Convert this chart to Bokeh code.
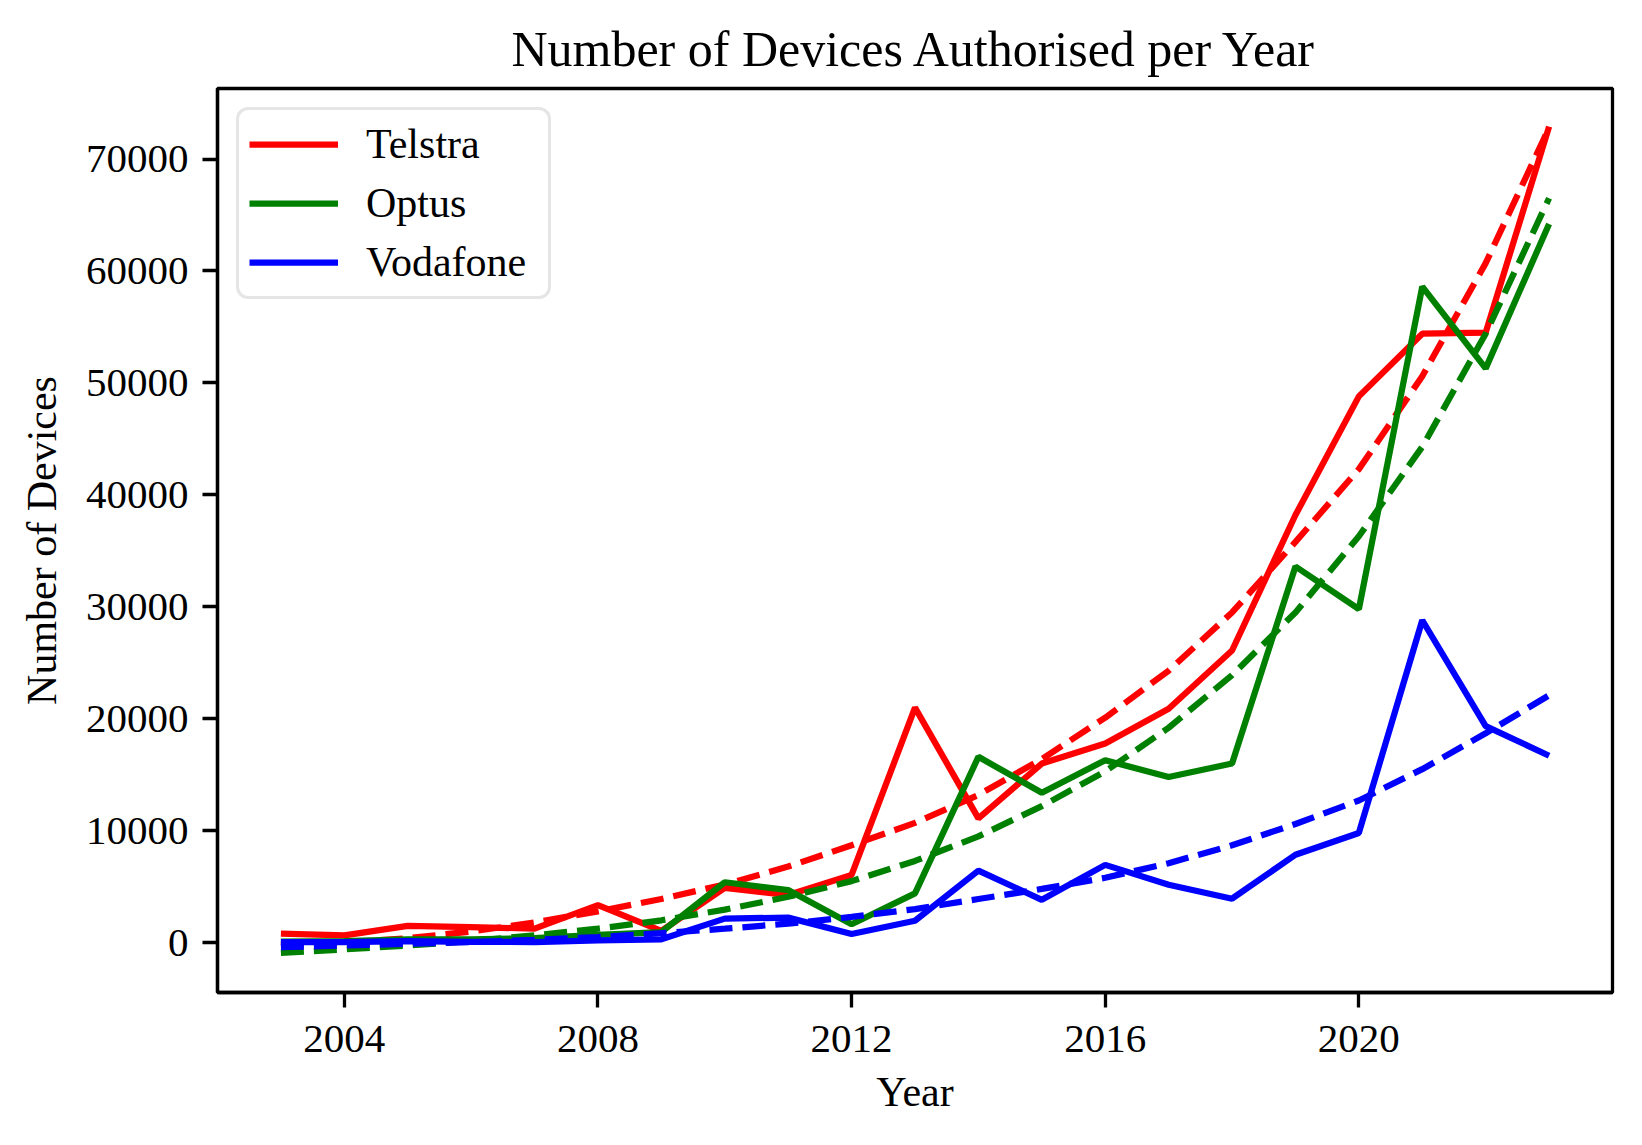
from bokeh.plotting import figure
from bokeh.models import Range1d, FixedTicker, NumeralTickFormatter, Legend, LegendItem
from bokeh.embed import file_html
from bokeh.resources import INLINE

years = list(range(2003, 2024))

telstra = [800, 650, 1500, 1400, 1250, 3350, 1050, 4900, 4250, 6050, 21000, 11100,
           16000, 17800, 20900, 26100, 38200, 48800, 54400, 54500, 72900]
optus = [100, 150, 300, 300, 400, 700, 950, 5400, 4700, 1650, 4400, 16600,
         13400, 16300, 14800, 16000, 33600, 29800, 58600, 51300, 64200]
vodafone = [60, 60, 150, 80, 60, 200, 300, 2150, 2240, 780, 1960, 6440,
            3830, 6950, 5180, 3930, 7850, 9800, 28800, 19350, 16700]

telstra_trend = [-200, 0, 400, 1000, 1800, 2800, 3900, 5200, 6800, 8700, 10700, 13200,
                 16400, 20100, 24300, 29500, 35800, 42300, 50600, 60700, 72800]
optus_trend = [-900, -600, -250, 150, 650, 1250, 2000, 2950, 4100, 5500, 7300, 9500,
               12200, 15300, 19200, 23900, 29500, 36300, 44300, 54400, 66500]
vodafone_trend = [-400, -250, -100, 50, 250, 500, 850, 1250, 1700, 2300, 3000, 3900,
                  4800, 5800, 7100, 8700, 10600, 12700, 15500, 18700, 22100]

series_names = ["Telstra", "Optus", "Vodafone"]
series_colors = ["#ff0000", "#008000", "#0000ff"]
x_ticks = [2004, 2008, 2012, 2016, 2020]
y_ticks = [0, 10000, 20000, 30000, 40000, 50000, 60000, 70000]

FONT = "Liberation Serif"

p = figure(width=1626, height=1129, output_backend="svg", toolbar_location=None,
           x_range=Range1d(2002.0, 2024.0), y_range=Range1d(-4450, 76300),
           min_border_left=217, min_border_right=14, min_border_top=88, min_border_bottom=137,
           title="Number of Devices Authorised per Year")
p.background_fill_color = "white"
p.border_fill_color = "white"
p.grid.visible = False
p.outline_line_color = "black"
p.outline_line_width = 3.3

p.title.text_font = FONT
p.title.text_font_size = "50px"
p.title.text_font_style = "normal"
p.title.align = "center"
p.title.text_color = "black"
p.title.standoff = 23

for ax in (p.xaxis[0], p.yaxis[0]):
    ax.axis_line_width = 3.3
    ax.axis_line_color = "black"
    ax.major_tick_line_width = 3.3
    ax.major_tick_out = 15
    ax.major_tick_in = 0
    ax.minor_tick_out = 0
    ax.minor_tick_in = 0
    ax.major_label_text_font = FONT
    ax.major_label_text_font_size = "41px"
    ax.major_label_text_color = "black"
    ax.axis_label_text_font = FONT
    ax.axis_label_text_font_size = "42px"
    ax.axis_label_text_font_style = "normal"
    ax.axis_label_text_color = "black"
    ax.major_label_standoff = 14

p.xaxis[0].ticker = FixedTicker(ticks=x_ticks)
p.yaxis[0].ticker = FixedTicker(ticks=y_ticks)
p.xaxis[0].formatter = NumeralTickFormatter(format="0")
p.yaxis[0].formatter = NumeralTickFormatter(format="0")
p.xaxis[0].axis_label = "Year"
p.yaxis[0].axis_label = "Number of Devices"
p.xaxis[0].major_label_standoff = 18
p.xaxis[0].axis_label_standoff = 14
p.yaxis[0].axis_label_standoff = 18

actual = [telstra, optus, vodafone]
trends = [telstra_trend, optus_trend, vodafone_trend]
items = []
for name, color, vals, tr in zip(series_names, series_colors, actual, trends):
    r = p.line(years, vals, line_color=color, line_width=6.25)
    p.line(years, tr, line_color=color, line_width=6.25, line_dash="23 10")
    items.append(LegendItem(label=name, renderers=[r]))

legend = Legend(items=items, location="top_left")
legend.margin = 19
legend.padding = 10
legend.spacing = 11
legend.glyph_width = 89
legend.glyph_height = 42
legend.label_height = 42
legend.label_width = 172
legend.label_standoff = 28
legend.label_text_font = FONT
legend.label_text_font_size = "42px"
legend.label_text_color = "black"
legend.border_line_color = "#cccccc"
legend.border_line_width = 3.3
legend.background_fill_color = "white"
legend.background_fill_alpha = 0.8
if "border_radius" in Legend.properties():
    legend.border_radius = 12
p.add_layout(legend)

open("out.html", "w").write(file_html(p, INLINE))
